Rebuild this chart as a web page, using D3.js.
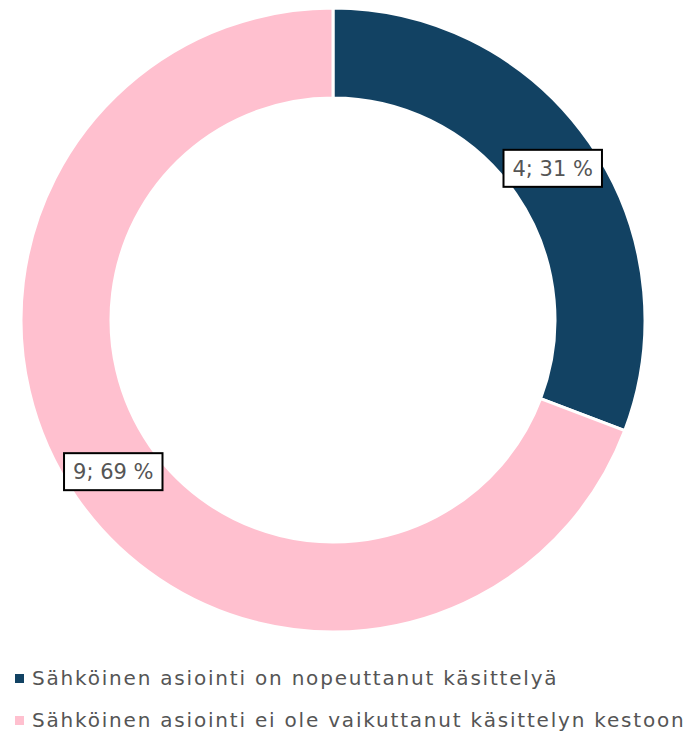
<!DOCTYPE html>
<html><head><meta charset="utf-8">
<script src="https://cdn.jsdelivr.net/npm/d3@7"></script>
<style>body{margin:0;background:#fff;}svg{display:block;font-family:"DejaVu Sans",sans-serif;}</style>
</head><body>
<svg id="c" width="695" height="737"></svg>
<script>
const categories = ["Sähköinen asiointi on nopeuttanut käsittelyä", "Sähköinen asiointi ei ole vaikuttanut käsittelyn kestoon"];
const values = [4, 9];
const percents = ["31 %", "69 %"];
const colors = ["#124263", "#ffc0cf"];

const svg = d3.select("#c");
const cx = 333, cy = 320, rOuter = 312, rInner = 222;
const pie = d3.pie().sort(null).value(d => d)(values);
const arc = d3.arc().innerRadius(rInner).outerRadius(rOuter);
const g = svg.append("g").attr("transform", `translate(${cx},${cy})`);
g.selectAll("path").data(pie).join("path")
  .attr("d", arc).attr("fill", (d, i) => colors[i])
  .attr("stroke", "#fff").attr("stroke-width", 3);

const lblArc = d3.arc().innerRadius((rInner + rOuter) / 2).outerRadius((rInner + rOuter) / 2);
pie.forEach((d, i) => {
  const [x, y] = lblArc.centroid(d);
  const lg = g.append("g").attr("transform", `translate(${x},${y})`);
  const t = lg.append("text").attr("text-anchor", "middle").attr("dy", "0.36em")
    .attr("font-size", 21).attr("fill", "#555").text(`${values[i]}; ${percents[i]}`);
  const bb = t.node().getBBox();
  lg.insert("rect", "text").attr("x", bb.x - 9).attr("y", -18.5).attr("width", bb.width + 18).attr("height", 37)
    .attr("fill", "#fff").attr("stroke", "#000").attr("stroke-width", 2);
});

const leg = svg.append("g");
categories.forEach((c, i) => {
  const y = 678 + i * 42;
  leg.append("rect").attr("x", 15).attr("y", y - 4).attr("width", 9).attr("height", 9).attr("fill", colors[i]);
  leg.append("text").attr("x", 32).attr("y", y).attr("dy", "0.36em").attr("font-size", 20)
    .attr("letter-spacing", 1.8).attr("fill", "#555").text(c);
});
</script>
</body></html>
